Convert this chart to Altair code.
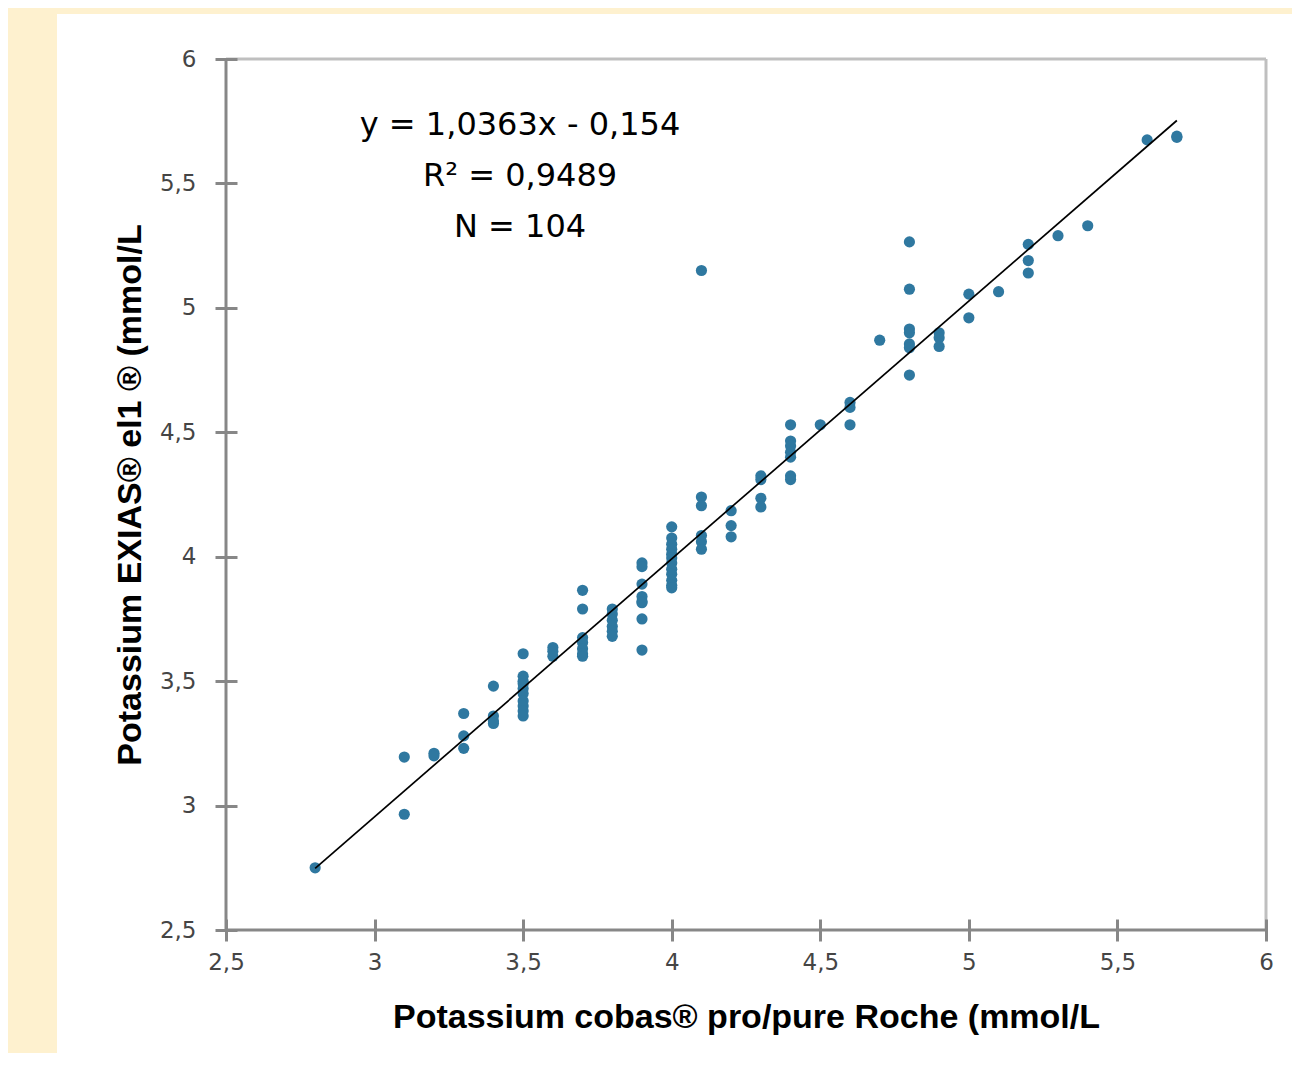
import altair as alt
import pandas as pd

# Measured values (x = Roche cobas, y = EXIAS e|1), mmol/L
roche = (
    [2.8]
    + [3.1] * 2
    + [3.2] * 2
    + [3.3] * 3
    + [3.4] * 4
    + [3.5] * 10
    + [3.6] * 3
    + [3.7] * 7
    + [3.8] * 6
    + [3.9] * 8
    + [4.0] * 12
    + [4.1] * 6
    + [4.2] * 3
    + [4.3] * 4
    + [4.4] * 7
    + [4.5]
    + [4.6] * 3
    + [4.7]
    + [4.8] * 7
    + [4.9] * 3
    + [5.0] * 2
    + [5.1]
    + [5.2] * 3
    + [5.3]
    + [5.4]
    + [5.6]
    + [5.7] * 2
)
exias = [
    2.75,
    3.195, 2.965,
    3.21, 3.20,
    3.37, 3.28, 3.23,
    3.48, 3.36, 3.34, 3.33,
    3.61, 3.52, 3.50, 3.49, 3.47, 3.45, 3.42, 3.40, 3.38, 3.36,
    3.635, 3.62, 3.60,
    3.865, 3.79, 3.675, 3.655, 3.63, 3.61, 3.60,
    3.79, 3.77, 3.745, 3.72, 3.70, 3.68,
    3.975, 3.96, 3.89, 3.84, 3.82, 3.815, 3.75, 3.625,
    4.12, 4.075, 4.05, 4.03, 4.01, 3.995, 3.975, 3.95, 3.93, 3.905, 3.885, 3.875,
    5.15, 4.24, 4.205, 4.085, 4.06, 4.03,
    4.185, 4.125, 4.08,
    4.325, 4.31, 4.235, 4.20,
    4.53, 4.465, 4.445, 4.42, 4.40, 4.325, 4.31,
    4.53,
    4.62, 4.60, 4.53,
    4.87,
    5.265, 5.075, 4.915, 4.90, 4.855, 4.84, 4.73,
    4.90, 4.88, 4.845,
    5.055, 4.96,
    5.065,
    5.255, 5.19, 5.14,
    5.29,
    5.33,
    5.675,
    5.69, 5.685,
]

# Regression given in the chart
slope = 1.0363
intercept = -0.154
trend_x = [2.8, 5.7]

ann_lines = ["y = 1,0363x - 0,154", "R\u00b2 = 0,9489", "N = 104"]
tick_vals = [2.5, 3, 3.5, 4, 4.5, 5, 5.5, 6]

x_title = "Potassium cobas\u00ae pro/pure Roche (mmol/L"
y_title = "Potassium EXIAS\u00ae el1 \u00ae (mmol/L"

W, H = 1040, 871
PT_COLOR = "#2F78A0"
AXIS_GREY = "#878787"
BORDER_GREY = "#BFBFBF"

df = pd.DataFrame({"roche": roche, "exias": exias})
trend = pd.DataFrame({"x": trend_x, "y": [slope * v + intercept for v in trend_x]})
one = pd.DataFrame({"k": [0]})

label_expr = "replace(format(datum.value, '~g'), '.', ',')"

xscale = alt.Scale(domain=[2.5, 6], nice=False, zero=False)
yscale = alt.Scale(domain=[2.5, 6], nice=False, zero=False)

xaxis = alt.Axis(
    title=x_title, values=tick_vals, labelExpr=label_expr, grid=False,
    domain=False, ticks=True, tickSize=22, tickWidth=3, tickColor=AXIS_GREY,
    offset=-11, labelFont="DejaVu Sans", labelFontSize=23, labelColor="#454545",
    labelPadding=10, labelFlush=False, titleFont="Liberation Sans",
    titleFontSize=34, titleFontWeight="bold", titleColor="#000000",
    titlePadding=26, zindex=1,
)
yaxis = alt.Axis(
    title=y_title, values=tick_vals, labelExpr=label_expr, grid=False,
    domain=False, ticks=True, tickSize=22, tickWidth=3, tickColor=AXIS_GREY,
    offset=-11, labelFont="DejaVu Sans", labelFontSize=23, labelColor="#454545",
    labelPadding=19, labelFlush=False, titleFont="Liberation Sans",
    titleFontSize=34, titleFontWeight="bold", titleColor="#000000",
    titlePadding=12, zindex=1,
)

panel = alt.Chart(one).mark_rect(color="white").encode(
    x=alt.value(-169), x2=alt.value(W + 300), y=alt.value(-45), y2=alt.value(H + 200)
)

border_top = alt.Chart(one).mark_rule(color=BORDER_GREY, strokeWidth=3).encode(
    x=alt.value(0), x2=alt.value(W), y=alt.value(0)
)
border_right = alt.Chart(one).mark_rule(color=BORDER_GREY, strokeWidth=3).encode(
    x=alt.value(W), y=alt.value(0), y2=alt.value(H)
)
axis_left = alt.Chart(one).mark_rule(color=AXIS_GREY, strokeWidth=3).encode(
    x=alt.value(0), y=alt.value(0), y2=alt.value(H)
)
axis_bottom = alt.Chart(one).mark_rule(color=AXIS_GREY, strokeWidth=3).encode(
    x=alt.value(0), x2=alt.value(W), y=alt.value(H)
)

points = alt.Chart(df).mark_circle(size=125, opacity=1, color=PT_COLOR).encode(
    x=alt.X("roche:Q", scale=xscale, axis=xaxis),
    y=alt.Y("exias:Q", scale=yscale, axis=yaxis),
)

line = alt.Chart(trend).mark_line(color="#000000", strokeWidth=1.7).encode(
    x=alt.X("x:Q", scale=xscale), y=alt.Y("y:Q", scale=yscale)
)

ann_y = [66, 117, 168]
texts = [
    alt.Chart(pd.DataFrame({"t": [t]})).mark_text(
        font="DejaVu Sans", fontSize=32, color="#000000", align="center", baseline="middle"
    ).encode(text="t:N", x=alt.value(294), y=alt.value(yy))
    for t, yy in zip(ann_lines, ann_y)
]

chart = alt.layer(
    panel, border_top, border_right, points, line, axis_left, axis_bottom, *texts
).properties(
    width=W, height=H,
    autosize=alt.AutoSizeParams(type="none"),
    padding={"left": 218, "top": 51, "right": 26, "bottom": 123},
    background="#FEF1CF",
).configure_view(strokeWidth=0)

chart.save("out.html", embed_options={"renderer": "svg", "actions": False})
